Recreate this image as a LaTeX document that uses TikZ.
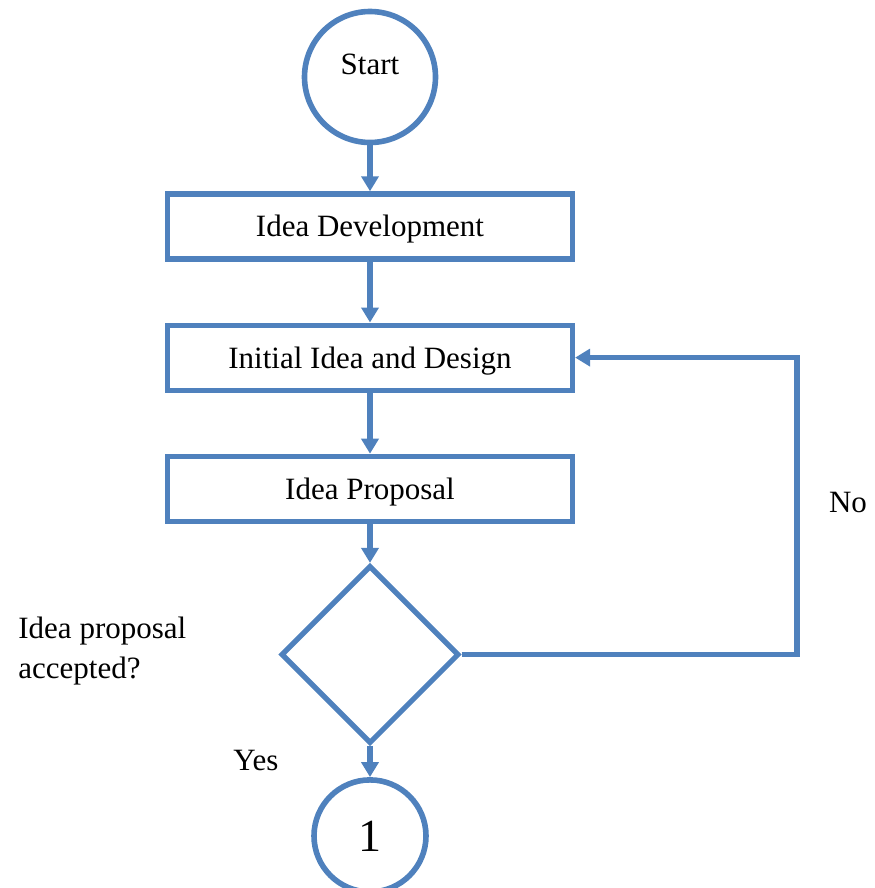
\documentclass[tikz,border=0pt]{standalone}
\usepackage{fontspec}
\setmainfont{Liberation Serif}
\usetikzlibrary{positioning,shapes.geometric,arrows.meta}

\definecolor{flowblue}{RGB}{79,129,189}

\tikzset{
  term/.style={circle, draw=flowblue, line width=2.8pt, inner sep=0pt},
  stepbox/.style={rectangle, draw=flowblue, line width=2.6pt,
    minimum width=202.5pt, minimum height=32.5pt, text height=12.5pt, text depth=2pt,
    font=\fontsize{15.5}{18}\selectfont},
  decide/.style={diamond, draw=flowblue, line width=2.6pt, minimum size=89pt, inner sep=0pt},
  flow/.style={draw=flowblue, line width=2.8pt, -{Triangle[length=7.5pt,width=8.5pt]}},
  note/.style={font=\fontsize{15.5}{20}\selectfont, inner sep=0pt}
}

\begin{document}
\begin{tikzpicture}
    \clip (0,0) rectangle (437pt,-444pt);

    \node [term, minimum size=65.5pt, text depth=13pt, font=\fontsize{15.5}{18}\selectfont] (start) at (185pt,-38.5pt) {Start};
    \node [stepbox, below=23pt of start] (develop) {Idea Development};
    \node [stepbox, below=30.5pt of develop] (design) {Initial Idea and Design};
    \node [stepbox, below=30.5pt of design] (proposal) {Idea Proposal};
    \node [decide, below=19.5pt of proposal] (accept) {};
    \node [term, minimum size=56pt, below=15.5pt of accept, font=\fontsize{23}{26}\selectfont] (one) {1};

    \coordinate [right=111pt of design.east] (turn);

    \draw [flow] (start) -- (develop);
    \draw [flow] (develop) -- (design);
    \draw [flow] (design) -- (proposal);
    \draw [flow] (proposal) -- (accept);
    \draw [flow] (accept) -- (one);
    \draw [flow] (accept.east) -| (turn) -- (design.east);

    \node [note] (no) at (424pt,-251pt) {No};
    \node [note] (yes) at (128pt,-380pt) {Yes};
    \node [note, align=left, anchor=west] (question) at (9pt,-325.5pt) {Idea proposal\\accepted?};
\end{tikzpicture}
\end{document}
